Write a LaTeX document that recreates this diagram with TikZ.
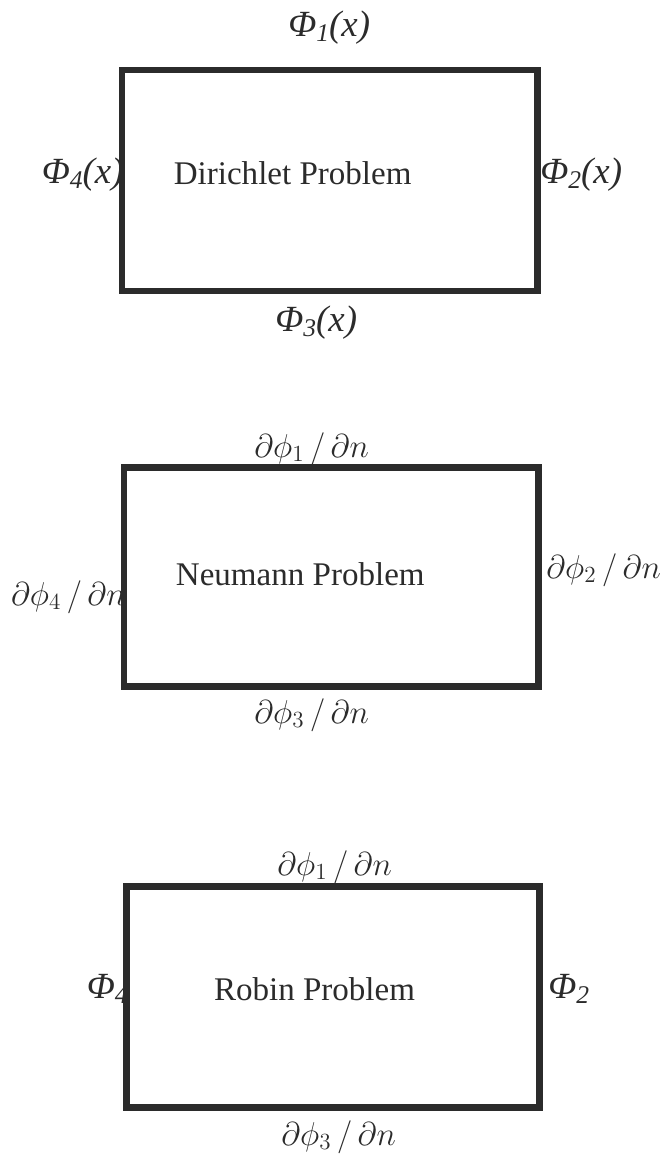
\documentclass[tikz,border=0pt]{standalone}
\usepackage{fix-cm}
\usepackage{amsmath, amssymb}
\usepackage{fontspec}
\setmainfont{Liberation Serif}
\usepackage{xcolor}
\usepackage{tikz}
\usetikzlibrary{calc, positioning}
\definecolor{inkgray}{HTML}{2B2B2B}
\newcommand{\bcphi}[1]{\textit{Φ\raisebox{-0.32ex}{\fontsize{14.5pt}{15pt}\selectfont #1}}}
\tikzset{
    boxline/.style={draw=inkgray, line width=1.3mm, line join=miter},
    bclabel/.style={inner sep=0pt, text=inkgray, font=\fontsize{18.8pt}{22pt}\selectfont},
    phlabel/.style={inner sep=0pt, text=inkgray, font=\fontsize{21pt}{24pt}\selectfont},
}

\begin{document}
\begin{tikzpicture}[x=0.2mm, y=-0.2mm]
    \useasboundingbox (0,0) rectangle (661,1157);

    % 1. Dirichlet
    \draw[boxline] (122,70) rectangle (537.5,291);
    \node[bclabel, anchor=base west] (dname) at (173.5,184) {Dirichlet Problem};
    \node[phlabel, anchor=base west] (dtop) at (288,36) {\bcphi{1}\textit{(x)}};
    \node[phlabel, anchor=base east] (dleft) at (124,183) {\bcphi{4}\textit{(x)}};
    \node[phlabel, anchor=base west] (dright) at (540,183) {\bcphi{2}\textit{(x)}};
    \node[phlabel, anchor=base west] (dbottom) at (275,331) {\bcphi{3}\textit{(x)}};

    % 2. Neumann
    \draw[boxline] (124,467.5) rectangle (538.3,686.7);
    \node[bclabel, anchor=base west] (nname) at (175.6,585) {Neumann Problem};
    \node[bclabel, anchor=base west] (ntop) at (254,457) {$\partial\phi_1\,/\,\partial n$};
    \node[bclabel, anchor=base east] (nleft) at (126,605) {$\partial\phi_4\,/\,\partial n$};
    \node[bclabel, anchor=base west] (nright) at (546,578) {$\partial\phi_2\,/\,\partial n$};
    \node[bclabel, anchor=base west] (nbottom) at (254,723) {$\partial\phi_3\,/\,\partial n$};

    % 3. Robin
    \draw[boxline] (126.7,886.5) rectangle (539.5,1107.5);
    \node[bclabel, anchor=base west] (rname) at (213.7,1000) {Robin Problem};
    \node[bclabel, anchor=base west] (rtop) at (277,875) {$\partial\phi_1\,/\,\partial n$};
    \node[phlabel, anchor=base east] (rleft) at (128,998) {\bcphi{4}};
    \node[phlabel, anchor=base west] (rright) at (548,998) {\bcphi{2}};
    \node[bclabel, anchor=base west] (rbottom) at (281,1145) {$\partial\phi_3\,/\,\partial n$};

\end{tikzpicture}
\end{document}
